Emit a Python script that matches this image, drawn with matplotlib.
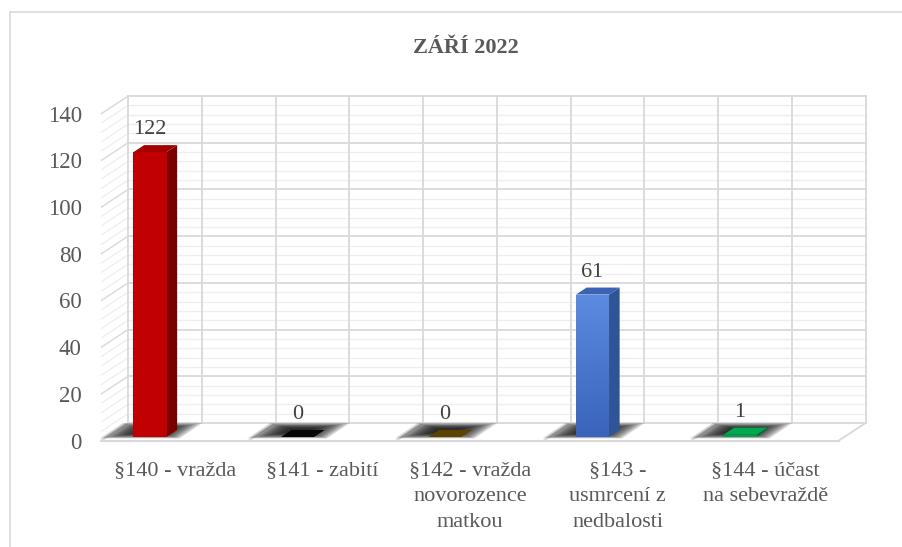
import numpy as np
import matplotlib
matplotlib.use('Agg')
import matplotlib.pyplot as plt
from matplotlib.patches import Polygon
from matplotlib.lines import Line2D

matplotlib.rcParams['font.family'] = 'Liberation Serif'

# data
title = 'ZÁŘÍ 2022'
categories = ['§140 - vražda', '§141 - zabití', '§142 - vražda\nnovorozence\nmatkou',
              '§143 -\nusmrcení z\nnedbalosti', '§144 - účast\nna sebevraždě']
values = [122, 0, 0, 61, 1]
front_colors = ['#c00000', '#000000', '#5a4300', '#4472c4', '#00a04c']
side_colors = ['#7a0000', '#000000', '#3d2d00', '#2f5597', '#007034']
top_colors = ['#a30000', '#050505', '#5c4400', '#3a63b4', '#00a850']
y_ticks = [0, 20, 40, 60, 80, 100, 120, 140]
y_minor = np.arange(0, 141, 4)

# fake 3d geometry (data units: 1 = one category, y = value)
wall_x0 = -0.149        # back wall left edge
wall_y0 = 6.0           # back wall baseline
depth_dx, depth_dy = -0.18, -7.5   # back -> front of floor
bar_w = 0.112
bar_dx, bar_dy = 0.072, 3.0        # bar depth
grid_c = '#d9d9d9'
minor_c = '#eeeeee'
text_c = '#595959'

fig = plt.figure(figsize=(9.02, 5.47), dpi=100)
ax = fig.add_axes([0, 0, 1, 1])
ax.axis('off')

# chart frame
fig.add_artist(Line2D([10 / 902, 10 / 902], [0, 1 - 12 / 547], color='#d9d9d9', lw=1.2))
fig.add_artist(Line2D([10 / 902, 1], [1 - 12 / 547, 1 - 12 / 547], color='#d9d9d9', lw=1.2))

n = len(categories)
x_right = wall_x0 + n

# back wall and left wall gridlines
for v in y_minor:
    if v in y_ticks:
        continue
    ax.plot([wall_x0, x_right], [wall_y0 + v, wall_y0 + v], color=minor_c, lw=0.9, zorder=1)
    ax.plot([wall_x0, wall_x0 + depth_dx], [wall_y0 + v, wall_y0 + v + depth_dy], color=minor_c, lw=0.9, zorder=1)
for v in y_ticks:
    ax.plot([wall_x0, x_right], [wall_y0 + v, wall_y0 + v], color=grid_c, lw=1.3, zorder=2)
    ax.plot([wall_x0, wall_x0 + depth_dx], [wall_y0 + v, wall_y0 + v + depth_dy], color=grid_c, lw=1.0, zorder=2)
for k in range(2 * n + 1):
    xv = wall_x0 + k * 0.5
    ax.plot([xv, xv], [wall_y0, wall_y0 + y_ticks[-1]], color=grid_c, lw=1.3, zorder=2)

# floor
ax.plot([wall_x0 + depth_dx, x_right + depth_dx], [wall_y0 + depth_dy] * 2, color=grid_c, lw=1.5, zorder=2)
for k in range(n + 1):
    xb = wall_x0 + k
    ax.plot([xb, xb + depth_dx], [wall_y0, wall_y0 + depth_dy], color=grid_c, lw=1.3, zorder=2)

blue_cmap = matplotlib.colors.LinearSegmentedColormap.from_list('b', ['#3a64bc', '#5b8be0'])

# shadows and bars
for i, v in enumerate(values):
    c = i
    sh = np.array([[c - 0.34, -0.6], [c + 0.2, -0.6], [c + 0.355, wall_y0], [c - 0.185, wall_y0]])
    ctr = sh.mean(axis=0)
    for s in np.linspace(1.0, 0.3, 12):
        ax.add_patch(Polygon(ctr + (sh - ctr) * s, closed=True, facecolor='#151515',
                             edgecolor='none', alpha=0.17, zorder=3))

    front = [(c - bar_w, 0), (c + bar_w, 0), (c + bar_w, v), (c - bar_w, v)]
    side = [(c + bar_w, 0), (c + bar_w + bar_dx, bar_dy), (c + bar_w + bar_dx, v + bar_dy), (c + bar_w, v)]
    top = [(c - bar_w, v), (c + bar_w, v), (c + bar_w + bar_dx, v + bar_dy), (c - bar_w + bar_dx, v + bar_dy)]
    ax.add_patch(Polygon(side, closed=True, facecolor=side_colors[i], edgecolor='none', zorder=4))
    ax.add_patch(Polygon(top, closed=True, facecolor=top_colors[i], edgecolor='none', zorder=4))
    fp = Polygon(front, closed=True, facecolor=front_colors[i], edgecolor='none', zorder=4)
    ax.add_patch(fp)
    if i == 3 and v > 0:
        # light at the top, darker at the base
        grad = np.linspace(1, 0, 50).reshape(-1, 1)
        im = ax.imshow(grad, extent=(c - bar_w, c + bar_w, 0, v), cmap=blue_cmap, aspect='auto',
                       origin='upper', zorder=4.5)
        im.set_clip_path(fp)

    ax.text(c, v + bar_dy + 6.5, str(v), ha='center', va='center', fontsize=16, color='#404040', zorder=6)

ax.set_xlim(-150 / 147.5, 752 / 147.5)
ax.set_ylim((437 - 547) / 2.335, 437 / 2.335)

# axis labels
for v in y_ticks:
    ax.text(-0.462, v - 2.6, str(v), ha='right', va='center', fontsize=16.5, color=text_c)
for i, lab in enumerate(categories):
    ax.text(i + 0.17, -10.4, lab, ha='center', va='top', fontsize=16, color=text_c, linespacing=1.5)

fig.text(466 / 902, 1 - 48 / 547, title, ha='center', va='center', fontsize=16,
         fontweight='bold', color=text_c)

fig.savefig('out.png', dpi=100)
